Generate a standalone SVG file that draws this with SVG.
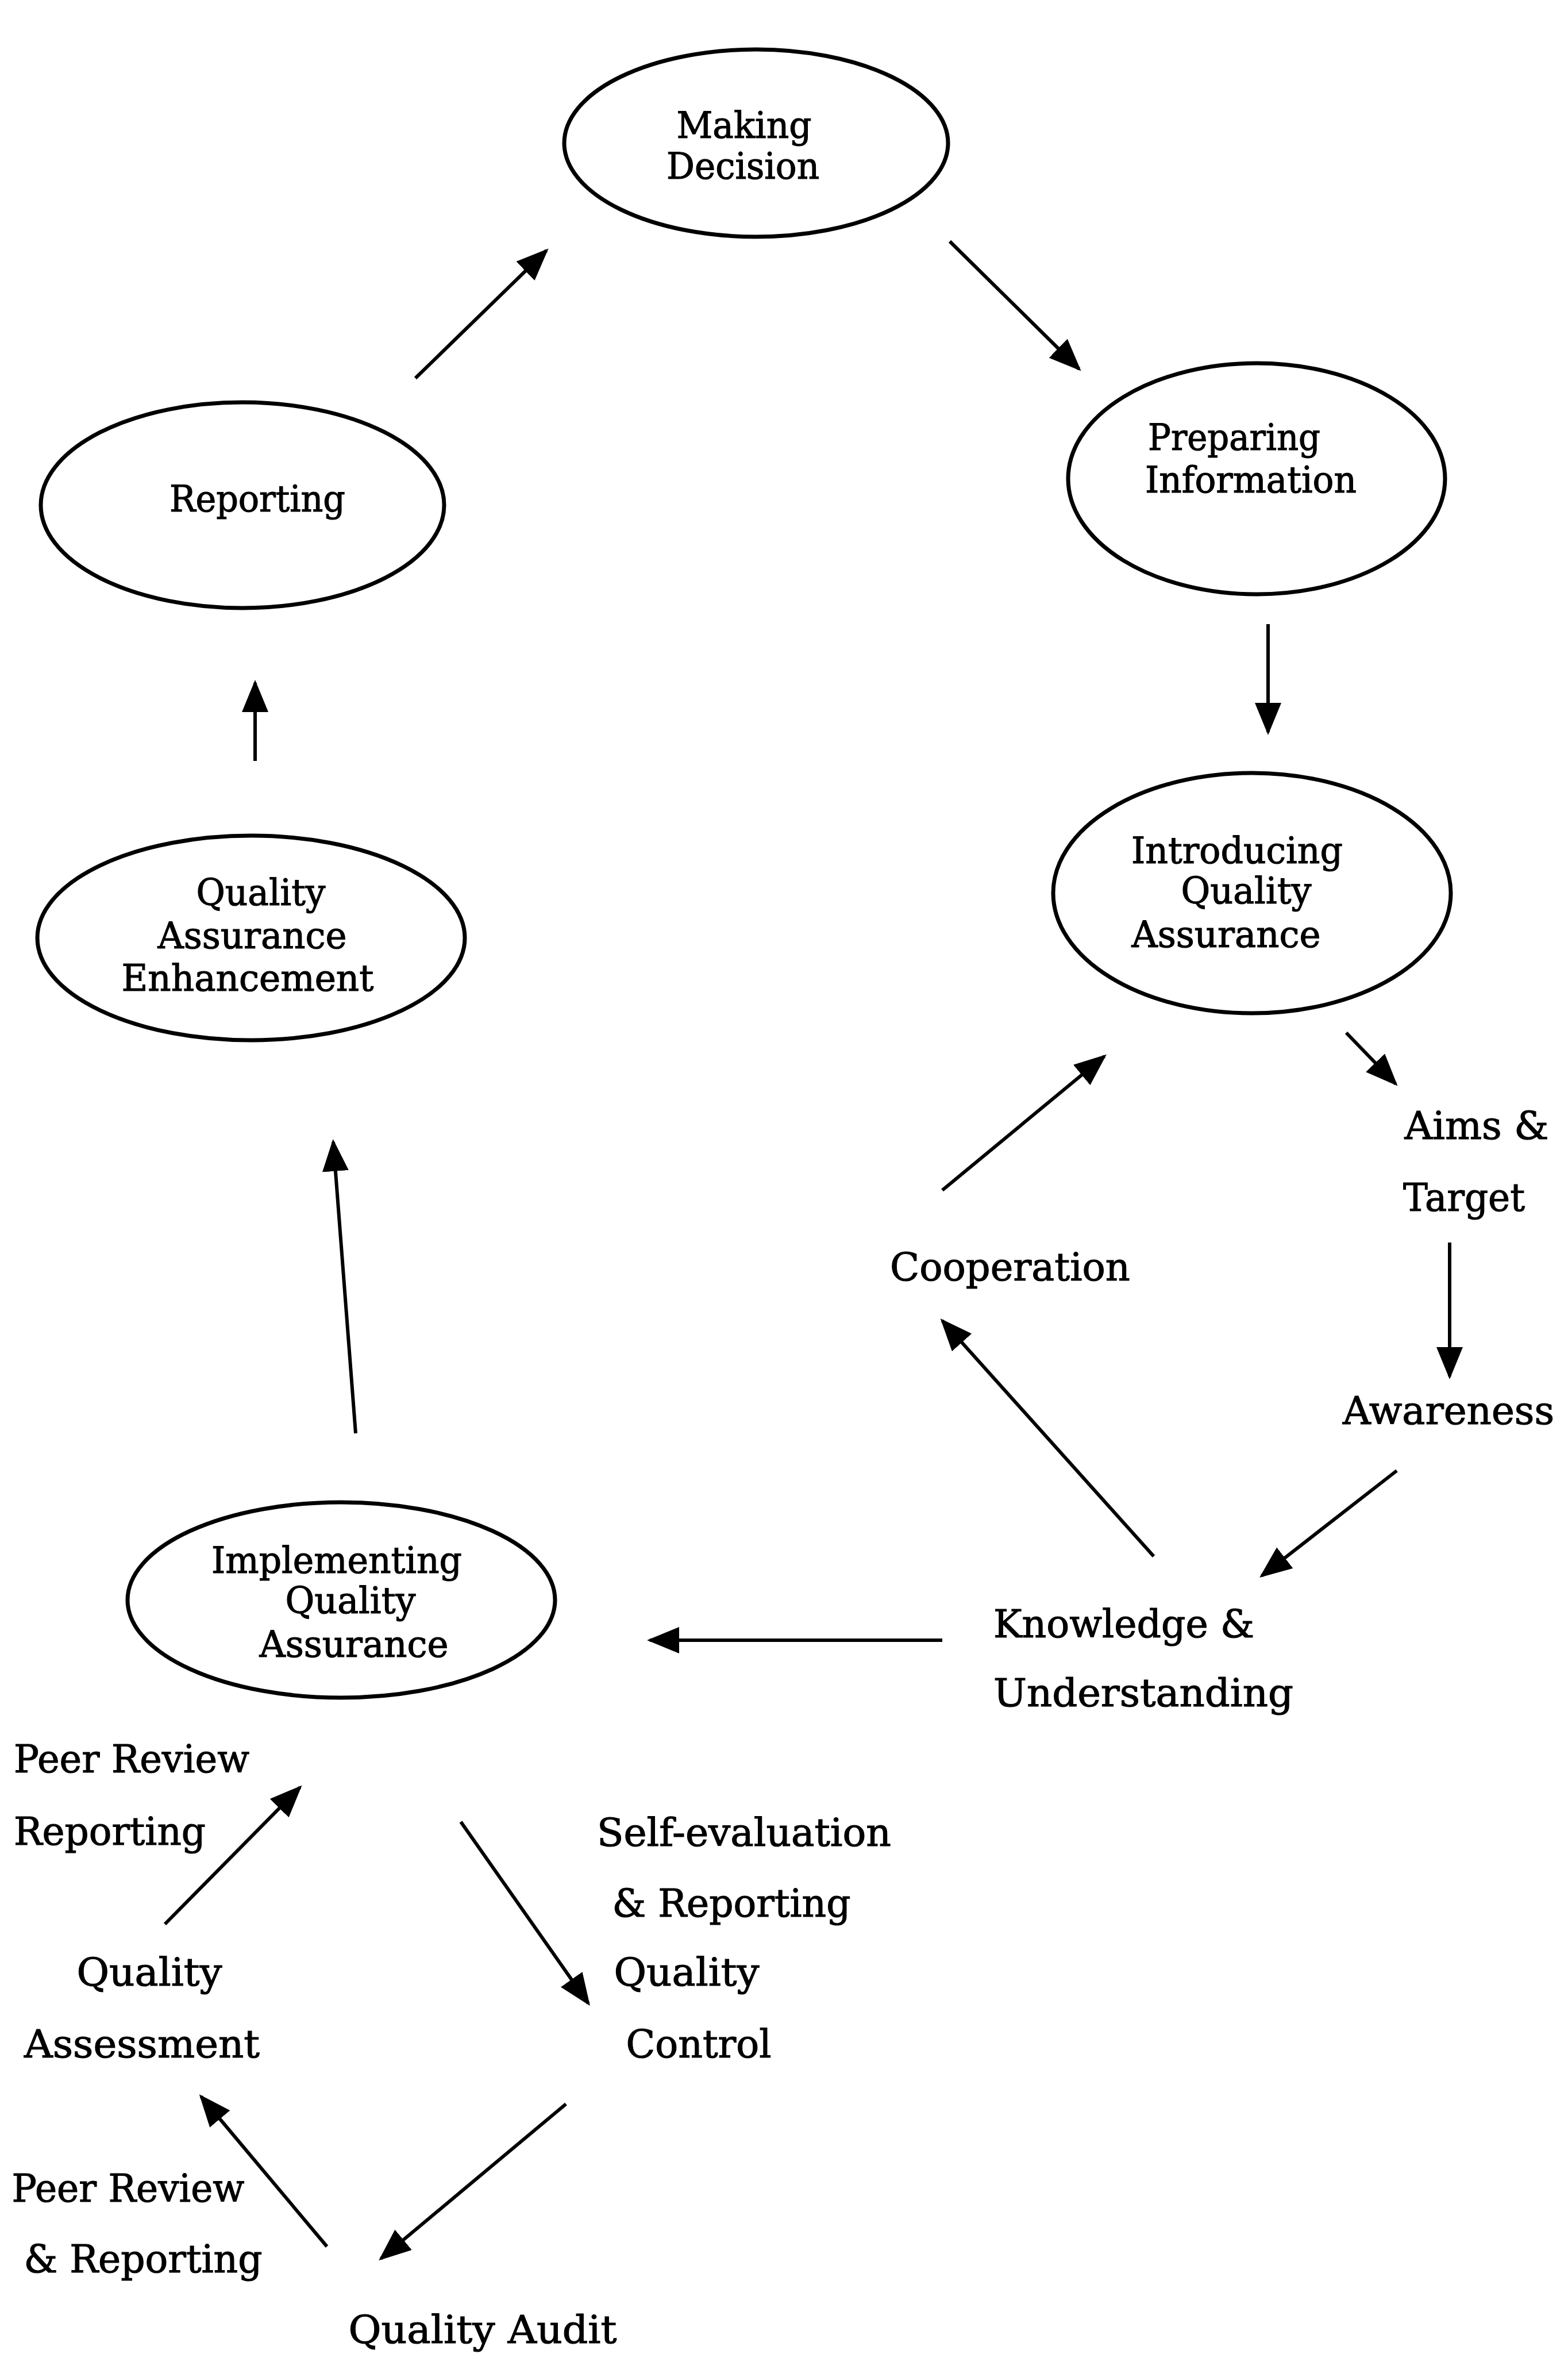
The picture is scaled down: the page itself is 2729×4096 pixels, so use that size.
<svg xmlns="http://www.w3.org/2000/svg" width="2729" height="4096" viewBox="0 0 2729 4096">
<style>
.node{fill:none;stroke:#000;stroke-width:7}
.in{font-family:"DejaVu Serif","Liberation Serif",serif;font-size:64px;fill:#000;stroke:#000;stroke-width:1.2;text-anchor:middle}
.out{font-family:"DejaVu Serif","Liberation Serif",serif;font-size:68px;fill:#000;stroke:#000;stroke-width:1.2;text-anchor:middle}
.arr{stroke:#000;stroke-width:6;fill:none;marker-end:url(#ah)}
</style>
<defs>
<marker id="ah" viewBox="0 0 56 46" refX="51" refY="23" markerWidth="56" markerHeight="46" markerUnits="userSpaceOnUse" orient="auto">
<path d="M0,0 L56,23 L0,46 Z" fill="#000"/>
</marker>
</defs>
<rect width="2729" height="4096" fill="#fff"/>

<g id="making-decision">
<ellipse class="node" cx="1316" cy="249" rx="334" ry="163"/>
<text class="in" x="1295" y="240" textLength="235" lengthAdjust="spacingAndGlyphs">Making</text>
<text class="in" x="1293" y="311" textLength="266" lengthAdjust="spacingAndGlyphs">Decision</text>
</g>
<g id="reporting">
<ellipse class="node" cx="422" cy="879" rx="351" ry="179"/>
<text class="in" x="448" y="890" textLength="306" lengthAdjust="spacingAndGlyphs">Reporting</text>
</g>
<g id="preparing-information">
<ellipse class="node" cx="2187" cy="833" rx="328" ry="201"/>
<text class="in" x="2148" y="783" textLength="300" lengthAdjust="spacingAndGlyphs">Preparing</text>
<text class="in" x="2177" y="857" textLength="368" lengthAdjust="spacingAndGlyphs">Information</text>
</g>
<g id="introducing-qa">
<ellipse class="node" cx="2179" cy="1554" rx="346" ry="209"/>
<text class="in" x="2153" y="1502" textLength="368" lengthAdjust="spacingAndGlyphs">Introducing</text>
<text class="in" x="2169" y="1572" textLength="227" lengthAdjust="spacingAndGlyphs">Quality</text>
<text class="in" x="2134" y="1648" textLength="329" lengthAdjust="spacingAndGlyphs">Assurance</text>
</g>
<g id="qa-enhancement">
<ellipse class="node" cx="437" cy="1632" rx="372" ry="178"/>
<text class="in" x="454" y="1575" textLength="225" lengthAdjust="spacingAndGlyphs">Quality</text>
<text class="in" x="439" y="1650" textLength="329" lengthAdjust="spacingAndGlyphs">Assurance</text>
<text class="in" x="431" y="1724" textLength="439" lengthAdjust="spacingAndGlyphs">Enhancement</text>
</g>
<g id="implementing-qa">
<ellipse class="node" cx="594" cy="2784" rx="372" ry="170"/>
<text class="in" x="586" y="2737" textLength="436" lengthAdjust="spacingAndGlyphs">Implementing</text>
<text class="in" x="610" y="2807" textLength="227" lengthAdjust="spacingAndGlyphs">Quality</text>
<text class="in" x="616" y="2883" textLength="329" lengthAdjust="spacingAndGlyphs">Assurance</text>
</g>

<g id="aims-target">
<text class="out" x="2570" y="1982" textLength="251" lengthAdjust="spacingAndGlyphs">Aims &amp;</text>
<text class="out" x="2548" y="2107" textLength="212" lengthAdjust="spacingAndGlyphs">Target</text>
</g>
<g id="cooperation">
<text class="out" x="1758" y="2228" textLength="418" lengthAdjust="spacingAndGlyphs">Cooperation</text>
</g>
<g id="awareness">
<text class="out" x="2521" y="2478" textLength="368" lengthAdjust="spacingAndGlyphs">Awareness</text>
</g>
<g id="knowledge-understanding">
<text class="out" x="1956" y="2849" textLength="454" lengthAdjust="spacingAndGlyphs">Knowledge &amp;</text>
<text class="out" x="1990" y="2969" textLength="522" lengthAdjust="spacingAndGlyphs">Understanding</text>
</g>
<g id="peer-review-reporting">
<text class="out" x="229" y="3084" textLength="410" lengthAdjust="spacingAndGlyphs">Peer Review</text>
<text class="out" x="191" y="3210" textLength="334" lengthAdjust="spacingAndGlyphs">Reporting</text>
</g>
<g id="self-evaluation-quality-control">
<text class="out" x="1295" y="3212" textLength="512" lengthAdjust="spacingAndGlyphs">Self-evaluation</text>
<text class="out" x="1273" y="3335" textLength="415" lengthAdjust="spacingAndGlyphs">&amp; Reporting</text>
<text class="out" x="1195" y="3455" textLength="253" lengthAdjust="spacingAndGlyphs">Quality</text>
<text class="out" x="1216" y="3580" textLength="253" lengthAdjust="spacingAndGlyphs">Control</text>
</g>
<g id="quality-assessment">
<text class="out" x="260" y="3455" textLength="253" lengthAdjust="spacingAndGlyphs">Quality</text>
<text class="out" x="247" y="3580" textLength="410" lengthAdjust="spacingAndGlyphs">Assessment</text>
</g>
<g id="peer-review-and-reporting">
<text class="out" x="223" y="3831" textLength="405" lengthAdjust="spacingAndGlyphs">Peer Review</text>
<text class="out" x="249" y="3954" textLength="415" lengthAdjust="spacingAndGlyphs">&amp; Reporting</text>
</g>
<g id="quality-audit">
<text class="out" x="840" y="4077" textLength="467" lengthAdjust="spacingAndGlyphs">Quality Audit</text>
</g>

<g id="connectors">
<line class="arr" x1="723" y1="658" x2="951" y2="436"/>
<line class="arr" x1="1653" y1="420" x2="1878" y2="642"/>
<line class="arr" x1="2207" y1="1086" x2="2207" y2="1274"/>
<line class="arr" x1="444" y1="1324" x2="444" y2="1188"/>
<line class="arr" x1="619" y1="2494" x2="580" y2="1987"/>
<line class="arr" x1="2343" y1="1797" x2="2429" y2="1886"/>
<line class="arr" x1="2523" y1="2162" x2="2523" y2="2395"/>
<line class="arr" x1="1640" y1="2071" x2="1922" y2="1838"/>
<line class="arr" x1="2431" y1="2559" x2="2196" y2="2742"/>
<line class="arr" x1="2008" y1="2708" x2="1640" y2="2298"/>
<line class="arr" x1="1640" y1="2854" x2="1131" y2="2854"/>
<line class="arr" x1="287" y1="3348" x2="522" y2="3110"/>
<line class="arr" x1="802" y1="3170" x2="1024" y2="3486"/>
<line class="arr" x1="985" y1="3661" x2="663" y2="3930"/>
<line class="arr" x1="569" y1="3909" x2="350" y2="3648"/>
</g>
</svg>
